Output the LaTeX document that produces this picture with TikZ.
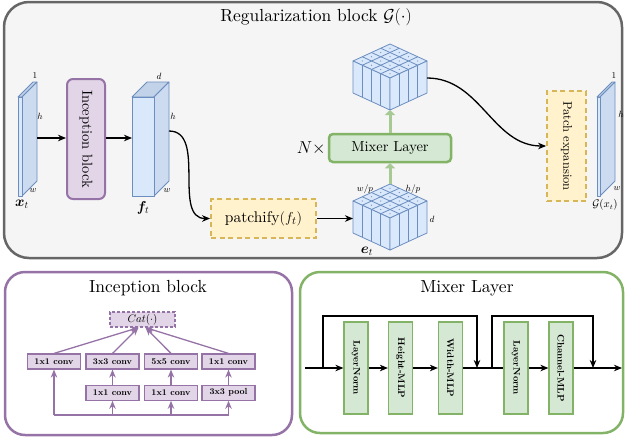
\documentclass[tikz,border=0pt]{standalone}
\usepackage{amsmath,bm,graphicx}
\usepackage{fontspec}
\setmainfont{lmroman10-regular.otf}[BoldFont=lmroman10-bold.otf,ItalicFont=lmroman10-italic.otf]
\usetikzlibrary{
    arrows.meta,
    positioning,
    calc
}
\definecolor{grayline}{HTML}{666666}
\definecolor{grayfill}{HTML}{F5F5F5}
\definecolor{purpleline}{HTML}{9673A6}
\definecolor{purplefill}{HTML}{E1D5E7}
\definecolor{yellowline}{HTML}{D6B656}
\definecolor{yellowfill}{HTML}{FFF2CC}
\definecolor{greenline}{HTML}{82B366}
\definecolor{greenfill}{HTML}{D5E8D4}
\definecolor{blueline}{HTML}{6C8EBF}
\definecolor{bluefill}{HTML}{DAE8FC}
\definecolor{blueside}{HTML}{CCDBF0}
\definecolor{bluetop}{HTML}{C2D2E8}
\tikzset{
    % Frames
    reg frame/.style={draw=grayline,fill=grayfill,line width=2.5pt,rounded corners=25pt},
    inc frame/.style={draw=purpleline,fill=white,line width=2.5pt,rounded corners=20pt},
    mix frame/.style={draw=greenline,fill=white,line width=2.5pt,rounded corners=20pt},
    frame title/.style={inner sep=0pt,font=\fontsize{17.5}{20}\selectfont},
    %
    % Boxes
    purple box/.style={draw=purpleline,fill=purplefill,line width=2pt,rounded corners=6pt,font=\fontsize{14.5}{16}\selectfont},
    yellow box/.style={draw=yellowline,fill=yellowfill,line width=1.8pt,dash pattern=on 5pt off 3.5pt},
    green box/.style={draw=greenline,fill=greenfill,line width=2.5pt,rounded corners=4pt,font=\fontsize{14.5}{16}\selectfont},
    conv box/.style={draw=purpleline,fill=purplefill,line width=1.2pt,minimum width=53pt,minimum height=15pt,inner sep=0pt,font=\fontsize{8.8}{10}\selectfont\bfseries},
    mix block/.style={draw=greenline,fill=greenfill,line width=1.2pt,minimum width=24pt,minimum height=92pt,inner sep=0pt,font=\fontsize{9.5}{11}\selectfont\bfseries},
    %
    % Labels
    dim label/.style={inner sep=0pt,font=\fontsize{9}{10}\selectfont},
    var label/.style={inner sep=0pt,font=\fontsize{14}{16}\selectfont},
    %
    % Arrows
    sharp tip/.tip={Stealth[length=8pt,width=6.5pt,inset=2.5pt]},
    arr/.style={->,>={sharp tip},line width=1.3pt},
    purple arr/.style={arr,draw=purpleline},
    green arr/.style={-{Triangle[length=5pt,width=10pt]},line width=3pt,draw=greenline!70!white},
    %
    % Tensors
    blue edge/.style={draw=blueline,line width=.8pt,line join=round},
    slab/.pic={
        \draw[blue edge,fill=bluetop] (0,0) -- (15,-15) -- (#1+15,-15) -- (#1,0) -- cycle;
        \draw[blue edge,fill=blueside] (#1,0) -- (#1+15,-15) -- (#1+15,84) -- (#1,99) -- cycle;
        \draw[blue edge,fill=bluefill] (0,0) rectangle (#1,99);
        \coordinate (-in) at (0,41);
        \coordinate (-out) at (#1+15,41);
    },
    gridcube/.pic={
        \draw[blue edge,fill=bluefill] (0,0) -- (-37,-17) -- (0,-34) -- (37,-17) -- cycle;
        \draw[blue edge,fill=bluefill] (0,0) -- (-37,-17) -- (-37,15) -- (0,32) -- cycle;
        \draw[blue edge,fill=bluefill] (0,0) -- (37,-17) -- (37,15) -- (0,32) -- cycle;
        \foreach \i in {1,2,3}{
            \draw[blue edge] (-37*\i/4,-17*\i/4) -- ++(37,-17);
            \draw[blue edge] (37*\i/4,-17*\i/4) -- ++(-37,-17);
            \draw[blue edge] (-37*\i/4,-17*\i/4) -- ++(0,32);
            \draw[blue edge] (37*\i/4,-17*\i/4) -- ++(0,32);
        }
        \foreach \i in {0,...,3}
            \foreach \j in {0,...,3}
                \fill[blueline] ({-37*(\i+.5)/4+37*(\j+.5)/4},{-17*(\i+.5)/4-17*(\j+.5)/4}) circle[radius=.6pt];
        \coordinate (-top) at (0,-34);
        \coordinate (-bottom) at (0,32);
        \coordinate (-west) at (-37,0);
        \coordinate (-east) at (37,0);
    }
}

\begin{document}
\begin{tikzpicture}[x=1pt,y=-1pt]
    \useasboundingbox (0,0) rectangle (626,440);
    % Regularization block
    \draw[reg frame] (4,2) rectangle (622,258);
    \node[frame title] (regtitle) at (316,17) {Regularization block $\mathcal{G}(\cdot)$};
    \pic (xt) at (18,97) {slab=4};
    \node[dim label] (xtone) at (35,76) {$1$};
    \node[dim label] (xth) at (40,116) {$h$};
    \node[dim label] (xtw) at (33,191) {$w$};
    \node[var label] (xtname) at (22,204) {$\bm{x}_t$};
    \node[purple box,minimum width=38pt,minimum height=120pt,inner sep=0pt] (incep) at (86,139) {\rotatebox{-90}{Inception block}};
    \pic (ft) at (132,97) {slab=22};
    \node[dim label] (ftd) at (159,76) {$d$};
    \node[dim label] (fth) at (173,116) {$h$};
    \node[dim label] (ftw) at (167,191) {$w$};
    \node[var label] (ftname) at (143,208) {$\bm{f}_t$};
    \draw[arr] (xt-out) -- (xt-out -| incep.west);
    \draw[arr] (ft-in -| incep.east) -- (ft-in);
    \node[yellow box,minimum width=105pt,minimum height=39pt,font=\fontsize{15.5}{17}\selectfont] (patchify) at (263.5,218.5) {patchify$(f_t)$};
    \draw[arr] ([yshift=7pt]ft-out) to[out=0,in=180] (patchify.west);
    \pic (et) at (390,218) {gridcube};
    \node[dim label] (etw) at (365,189) {$w/p$};
    \node[dim label] (eth) at (413,189) {$h/p$};
    \node[dim label] (etd) at (432,219) {$d$};
    \node[var label] (etname) at (367,251) {$\bm{e}_t$};
    \draw[arr] (patchify.east) -- (patchify.east -| et-west);
    \node[green box,minimum width=122pt,minimum height=28pt] (mixer) at (390,148) {Mixer Layer};
    \node[left=2pt of mixer,inner sep=0pt,font=\fontsize{17}{19}\selectfont] (nrep) {$N\times$};
    \pic (mixed) at (390,78) {gridcube};
    \draw[green arr] (et-top) -- (mixer.south);
    \draw[green arr] (mixer.north) -- (mixed-bottom);
    \node[yellow box,minimum width=39pt,minimum height=110pt,inner sep=0pt,font=\fontsize{12.5}{14}\selectfont] (expand) at (566.5,146) {\rotatebox{-90}{Patch expansion}};
    \draw[arr] (mixed-east) to[out=0,in=180] (expand.west);
    \pic (gx) at (597,97) {slab=3};
    \node[dim label] (gxone) at (614,76) {$1$};
    \node[dim label] (gxh) at (621,114) {$h$};
    \node[dim label] (gxw) at (617,189) {$w$};
    \node[dim label,font=\fontsize{10.5}{12}\selectfont] (gxname) at (605,205) {$\mathcal{G}(x_t)$};
    %
    % Inception block
    \draw[inc frame] (5,272) rectangle (292,435);
    \node[frame title] (inctitle) at (148,288) {Inception block};
    \node[conv box,dash pattern=on 3pt off 2pt,minimum width=65pt,font=\fontsize{11}{12}\selectfont] (cat) at (142.5,319.5) {$Cat(\cdot)$};
    \node[conv box] (conva) at (54,361.5) {1x1 conv};
    \node[conv box] (convb) at (112.5,361.5) {3x3 conv};
    \node[conv box] (convc) at (171,361.5) {5x5 conv};
    \node[conv box] (convd) at (228.5,361.5) {1x1 conv};
    \node[conv box,below=15pt of convb] (redb) {1x1 conv};
    \node[conv box,below=15pt of convc] (redc) {1x1 conv};
    \node[conv box,below=15pt of convd] (pool) {3x3 pool};
    \coordinate (base) at (0,415);
    \draw[draw=purpleline,line width=1.3pt] (conva.south |- base) -- (pool.south |- base);
    \foreach \n in {conva,redb,redc,pool}
        \draw[purple arr] (\n.south |- base) -- (\n.south);
    \draw[purple arr] (redb) -- (convb);
    \draw[purple arr] (redc) -- (convc);
    \draw[purple arr] (pool) -- (convd);
    \draw[purple arr] (conva.north) -- ([xshift=-4pt]cat.south);
    \draw[purple arr] (convb.north) -- ([xshift=-4pt]cat.south);
    \draw[purple arr] (convc.north) -- ([xshift=3pt]cat.south);
    \draw[purple arr] (convd.north) -- ([xshift=3pt]cat.south);
    %
    % Mixer layer
    \draw[mix frame] (300,272) rectangle (623,433);
    \node[frame title] (mixtitle) at (467,288) {Mixer Layer};
    \foreach \x/\name/\txt in {356/lna/LayerNorm,400.5/hmlp/Height-MLP,450.5/wmlp/Width-MLP,516/lnb/LayerNorm,561/cmlp/Channel-MLP}
        \node[mix block] (\name) at (\x,368) {\rotatebox{-90}{\txt}};
    \coordinate (mixin) at (305,368);
    \coordinate (mixout) at (622,368);
    \coordinate (skipa) at (323,368);
    \coordinate (joina) at (477,368);
    \coordinate (skipb) at (492,368);
    \coordinate (joinb) at (593,368);
    \draw[arr] (mixin) -- (lna);
    \draw[arr] (lna) -- (hmlp);
    \draw[arr] (hmlp) -- (wmlp);
    \draw[arr,-] (wmlp) -- (lnb);
    \draw[arr] (lnb) -- (cmlp);
    \draw[arr] (cmlp) -- (mixout);
    \draw[arr] (skipa) -- ++(0,-52) -| (joina);
    \draw[arr] (skipb) -- ++(0,-52) -| (joinb);
\end{tikzpicture}
\end{document}
